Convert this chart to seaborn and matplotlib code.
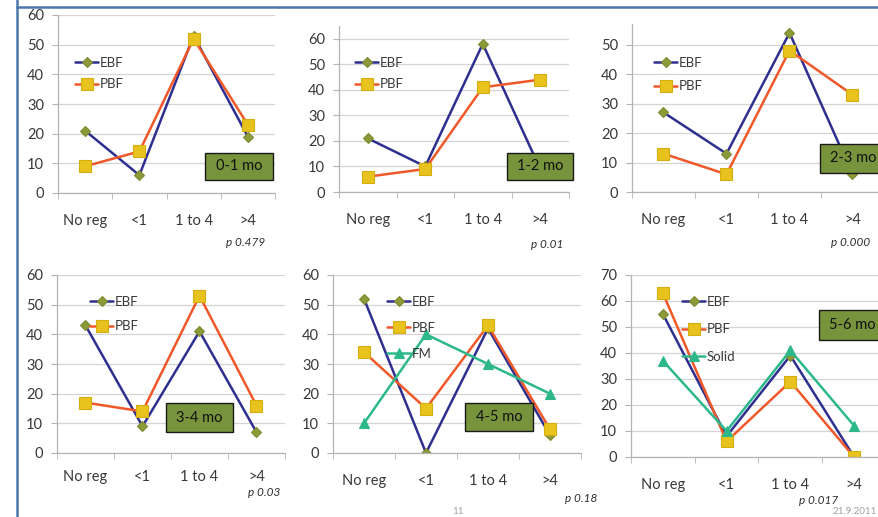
import numpy as np
import pandas as pd
import matplotlib
matplotlib.use("Agg")
import matplotlib.pyplot as plt
import seaborn as sns
from matplotlib.lines import Line2D
from matplotlib.patches import Rectangle

# data
categories = ["No reg", "<1", "1 to 4", ">4"]

ebf_01 = [21, 6, 53, 19]
pbf_01 = [9, 14, 52, 23]
ebf_12 = [21, 10, 58, 9]
pbf_12 = [6, 9, 41, 44]
ebf_23 = [27, 13, 54, 6]
pbf_23 = [13, 6, 48, 33]
ebf_34 = [43, 9, 41, 7]
pbf_34 = [17, 14, 53, 16]
ebf_45 = [52, 0, 42, 6]
pbf_45 = [34, 15, 43, 8]
fm_45 = [10, 40, 30, 20]
ebf_56 = [55, 8, 39, 0]
pbf_56 = [63, 6, 29, 0]
solid_56 = [37, 10, 41, 12]

age_labels = ["0-1 mo", "1-2 mo", "2-3 mo", "3-4 mo", "4-5 mo", "5-6 mo"]
p_labels = ["p 0.479", "p 0.01", "p 0.000", "p 0.03", "p 0.18", "p 0.017"]

panels = [
    {"EBF": ebf_01, "PBF": pbf_01},
    {"EBF": ebf_12, "PBF": pbf_12},
    {"EBF": ebf_23, "PBF": pbf_23},
    {"EBF": ebf_34, "PBF": pbf_34},
    {"EBF": ebf_45, "PBF": pbf_45, "FM": fm_45},
    {"EBF": ebf_56, "PBF": pbf_56, "Solid": solid_56},
]

# styles
style = {
    "EBF": dict(color="#2e2f8f", marker="D", markersize=5.5,
                markerfacecolor="#8c9a3a", markeredgecolor="#7d8a30"),
    "PBF": dict(color="#f0582a", marker="s", markersize=8,
                markerfacecolor="#e8c31e", markeredgecolor="#d6ad10"),
    "FM": dict(color="#2db88c", marker="^", markersize=7,
               markerfacecolor="#2db88c", markeredgecolor="#2db88c"),
}
style["Solid"] = style["FM"]

W, H = 879, 517

# layout in pixels: left, right, y of zero, y of top, ymax, yticks, label pad
layout = [
    (58, 275, 193, 15, 60, range(0, 61, 10), 15),
    (339, 569, 192, 26, 65, range(0, 61, 10), 15),
    (632, 884, 192, 24, 57, range(0, 51, 10), 15),
    (57, 285, 453, 275, 60, range(0, 61, 10), 12.5),
    (333, 581, 453, 275, 60, range(0, 61, 10), 15),
    (631, 886, 457, 275, 70, range(0, 71, 10), 15),
]
# legend: x start, first row centre, labelspacing
leg_pos = [(75, 62, 0.7), (355, 62, 0.7), (654, 62, 0.86),
           (90, 301, 0.94), (387, 301, 1.05), (682, 301, 1.16)]
# label box: left, top, right, bottom
box_pos = [(205, 153, 273, 180), (507, 153, 573, 180), (820, 144, 886, 173),
           (166, 403, 233, 432), (465, 403, 533, 431), (819, 310, 886, 340)]
# p-value: right edge, centre y
p_pos = [(265, 243), (563, 244), (870, 242), (280, 492), (597, 499), (838, 500)]

sns.set_style("white")
plt.rcParams["font.family"] = ["Lato", "DejaVu Sans"]

fig = plt.figure(figsize=(W / 100, H / 100), dpi=100)
fig.patch.set_facecolor("white")

for i, series in enumerate(panels):
    l, r, y0, yt, ymax, yticks, xpad = layout[i]
    ax = fig.add_axes([l / W, 1 - y0 / H, (r - l) / W, (y0 - yt) / H])
    ax.set_facecolor("none")
    for name, vals in series.items():
        sns.lineplot(x=categories, y=vals, ax=ax, sort=False, linewidth=1.8,
                     markeredgewidth=0.8, **style[name])
    ax.set_xlim(-0.5, 3.5)
    ax.set_ylim(0, ymax)
    ax.set_yticks(list(yticks))
    ax.set_xticks([-0.5, 0.5, 1.5, 2.5, 3.5], minor=True)
    ax.set_xlabel("")
    ax.set_ylabel("")
    ax.grid(axis="y", color="#d4d4d4", linewidth=0.9)
    ax.set_axisbelow(True)
    for s in ["top", "right"]:
        ax.spines[s].set_visible(False)
    for s in ["left", "bottom"]:
        ax.spines[s].set_color("#b4b4b4")
        ax.spines[s].set_linewidth(0.9)
    ax.tick_params(axis="x", which="major", length=0, pad=xpad,
                   labelsize=10.5, labelcolor="#383838")
    ax.tick_params(axis="x", which="minor", length=4, color="#b4b4b4",
                   direction="out", bottom=True)
    ax.tick_params(axis="y", length=4, color="#b4b4b4", direction="out",
                   pad=6, labelsize=10.5, labelcolor="#383838", left=True)

    # legend
    lx, ly, lsp = leg_pos[i]
    handles = [Line2D([], [], linewidth=1.8, markeredgewidth=0.8, **style[n])
               for n in series]
    ax.legend(handles, list(series.keys()), loc="upper left",
              bbox_to_anchor=(lx / W, 1 - (ly - 5) / H),
              bbox_transform=fig.transFigure, frameon=False,
              fontsize=9.5, handlelength=1.75, handletextpad=0.1,
              labelspacing=lsp, borderpad=0, borderaxespad=0,
              labelcolor="#383838")

    # age label box
    bl, bt, br, bb = box_pos[i]
    fig.add_artist(Rectangle((bl / W, 1 - bb / H), (br - bl) / W, (bb - bt) / H,
                             transform=fig.transFigure, facecolor="#77933c",
                             edgecolor="#1a1a1a", linewidth=1.0, zorder=5))
    fig.text((bl + br) / 2 / W, 1 - (bt + bb) / 2 / H, age_labels[i],
             ha="center", va="center", fontsize=10.5, color="#111111", zorder=6)

    # p value
    px, py = p_pos[i]
    fig.text(px / W, 1 - py / H, p_labels[i], ha="right", va="center",
             fontsize=8.5, style="italic", color="#303030")

# slide frame
fig.add_artist(Line2D([16.5 / W, 16.5 / W], [0, 1], transform=fig.transFigure,
                      color="#4a78ad", linewidth=1.8))
fig.add_artist(Line2D([16.5 / W, 1], [1 - 7 / H, 1 - 7 / H],
                      transform=fig.transFigure, color="#4a78ad", linewidth=1.8))
fig.text(458 / W, 1 - 511 / H, "11", ha="center", va="center",
         fontsize=7, color="#a0a0a0")
fig.text(877 / W, 1 - 511 / H, "21.9.2011", ha="right", va="center",
         fontsize=7, color="#a0a0a0")

fig.savefig("out.png", dpi=100)
